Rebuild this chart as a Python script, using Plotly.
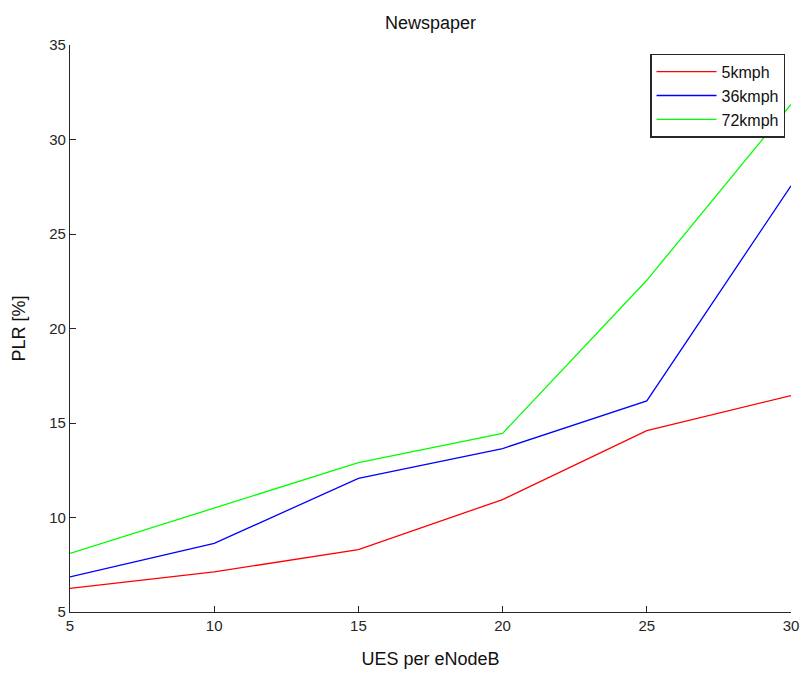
import plotly.graph_objects as go

ues = [5, 10, 15, 20, 25, 30]
plr_5kmph = [6.25, 7.12, 8.3, 10.95, 14.6, 16.45]
plr_36kmph = [6.86, 8.63, 12.07, 13.65, 16.17, 27.55]
plr_72kmph = [8.1, 10.52, 12.9, 14.45, 22.55, 31.85]

series = [
    ("5kmph", plr_5kmph, "#ff0000"),
    ("36kmph", plr_36kmph, "#0000ff"),
    ("72kmph", plr_72kmph, "#00ff00"),
]

fig = go.Figure()
for name, vals, color in series:
    fig.add_trace(go.Scatter(x=ues, y=vals, mode="lines", name=name,
                             line=dict(color=color, width=1.3)))

font_family = "Liberation Sans, Arial, sans-serif"
axis_common = dict(
    showgrid=False, zeroline=False, showline=True, linecolor="#262626",
    linewidth=1.3, ticks="inside", ticklen=6, tickcolor="#262626",
    tickfont=dict(family=font_family, size=15, color="#262626"),
    mirror=False, automargin=False,
)

fig.update_layout(
    width=803, height=674,
    paper_bgcolor="white", plot_bgcolor="white",
    margin=dict(l=70, r=12, t=45, b=62),
    title=dict(text="Newspaper", x=0.5, xref="paper", xanchor="center",
               y=0.967, yanchor="middle",
               font=dict(family=font_family, size=18, color="#111111")),
    xaxis=dict(range=[5, 30], tickvals=ues, title=dict(
        text="UES per eNodeB", standoff=19,
        font=dict(family=font_family, size=18, color="#111111")), **axis_common),
    yaxis=dict(range=[5, 35], tickvals=[5, 10, 15, 20, 25, 30, 35], title=dict(
        text="PLR [%]", standoff=18,
        font=dict(family=font_family, size=18, color="#111111")), **axis_common),
    legend=dict(x=0.992, y=0.985, xanchor="right", yanchor="top",
                bgcolor="white", bordercolor="#262626", borderwidth=1.3,
                font=dict(family=font_family, size=16, color="#111111"),
                tracegroupgap=0, itemwidth=60),
    showlegend=True,
)

fig.write_html("out.html")
